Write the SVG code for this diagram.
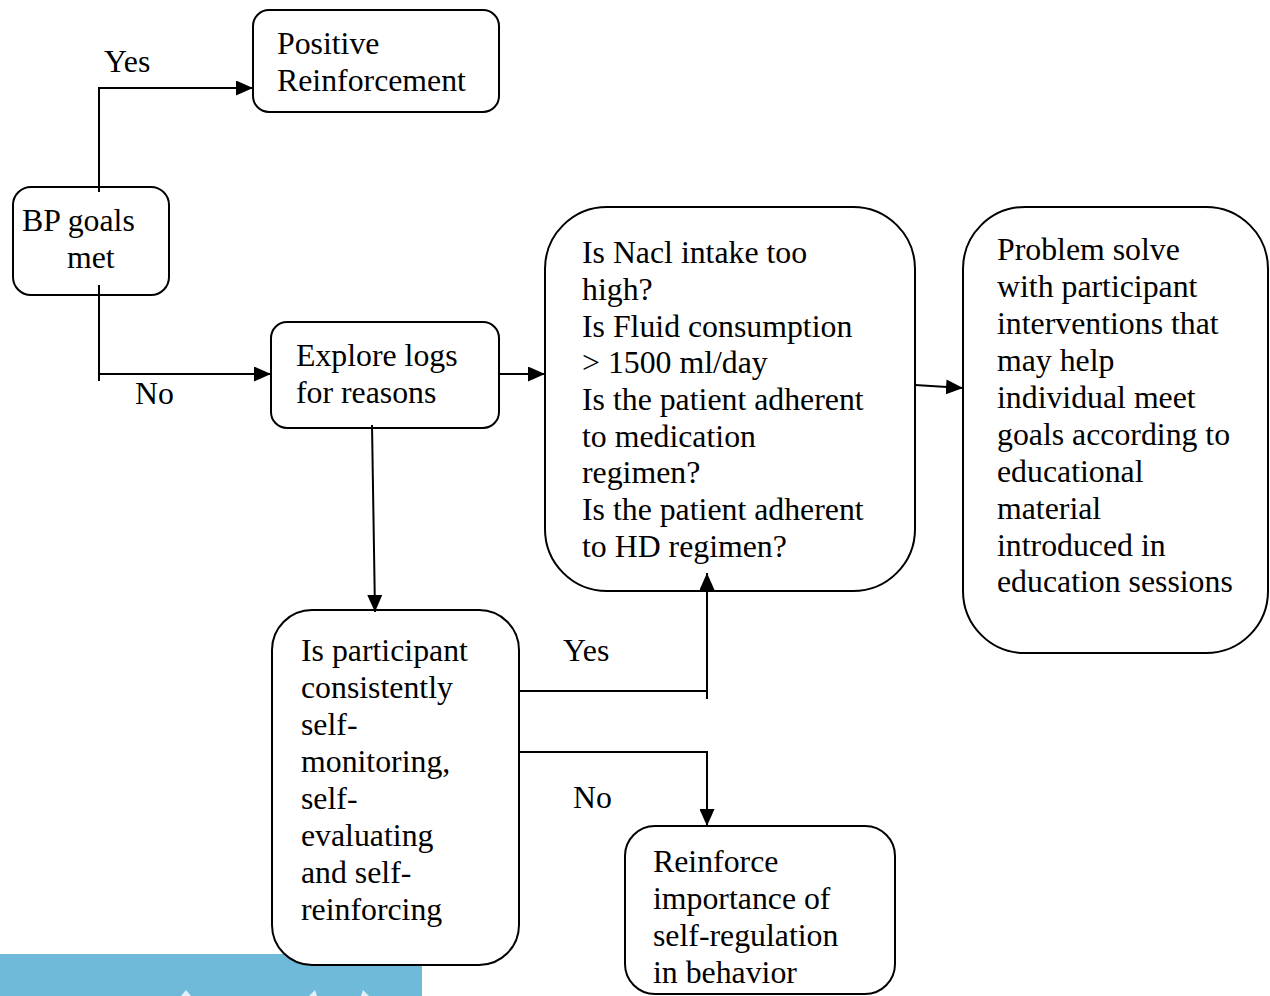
<svg xmlns="http://www.w3.org/2000/svg" width="1270" height="996" viewBox="0 0 1270 996">
<style>
.box{fill:#fff;stroke:#000;stroke-width:2}
.ln{fill:none;stroke:#000;stroke-width:2}
.t{font-family:"Liberation Serif","Times New Roman",serif;font-size:31.8px;fill:#000}
</style>
<defs>
<marker id="ah" markerWidth="17" markerHeight="15" refX="17" refY="7.5" orient="auto" markerUnits="userSpaceOnUse">
<path d="M0,0 L17,7.5 L0,15 Z" fill="#000"/>
</marker>
</defs>
<rect width="1270" height="996" fill="#fff"/>
<g id="band">
<rect x="0" y="954" width="422" height="42" fill="#6fbad9"/>
<path d="M181,996 L186,990 L191,996 M309,996 L315,990 L317,996 M361,996 L363,990 L369,996" fill="#fff" opacity="0.8"/>
</g>
<g id="labels">
<text class="t" x="104" y="72">Yes</text>
<text class="t" x="135" y="404">No</text>
<text class="t" x="563" y="661">Yes</text>
<text class="t" x="573" y="808">No</text>
</g>
<g id="positive">
<rect class="box" x="253" y="10" width="246" height="102" rx="16"/>
<text class="t" x="277" y="54">Positive</text>
<text class="t" x="277" y="91">Reinforcement</text>
</g>
<g id="bp">
<rect class="box" x="13" y="187" width="156" height="108" rx="18"/>
<text class="t" x="22" y="231">BP goals</text>
<text class="t" x="67" y="268">met</text>
</g>
<g id="explore">
<rect class="box" x="271" y="322" width="228" height="106" rx="16"/>
<text class="t" x="296" y="366">Explore logs</text>
<text class="t" x="296" y="403">for reasons</text>
</g>
<g id="questions">
<rect class="box" x="545" y="207" width="370" height="384" rx="62"/>
<text class="t">
<tspan x="582" y="263">Is Nacl intake too</tspan>
<tspan x="582" y="300">high?</tspan>
<tspan x="582" y="337">Is Fluid consumption</tspan>
<tspan x="582" y="373">&gt; 1500 ml/day</tspan>
<tspan x="582" y="410">Is the patient adherent</tspan>
<tspan x="582" y="447">to medication</tspan>
<tspan x="582" y="483">regimen?</tspan>
<tspan x="582" y="520">Is the patient adherent</tspan>
<tspan x="582" y="557">to HD regimen?</tspan>
</text>
</g>
<g id="problem">
<rect class="box" x="963" y="207" width="305" height="446" rx="62"/>
<text class="t">
<tspan x="997" y="260">Problem solve</tspan>
<tspan x="997" y="297">with participant</tspan>
<tspan x="997" y="334">interventions that</tspan>
<tspan x="997" y="371">may help</tspan>
<tspan x="997" y="408">individual meet</tspan>
<tspan x="997" y="445">goals according to</tspan>
<tspan x="997" y="482">educational</tspan>
<tspan x="997" y="519">material</tspan>
<tspan x="997" y="556">introduced in</tspan>
<tspan x="997" y="592">education sessions</tspan>
</text>
</g>
<g id="participant">
<rect class="box" x="272" y="610" width="247" height="355" rx="40"/>
<text class="t">
<tspan x="301" y="661">Is participant</tspan>
<tspan x="301" y="698">consistently</tspan>
<tspan x="301" y="735">self-</tspan>
<tspan x="301" y="772">monitoring,</tspan>
<tspan x="301" y="809">self-</tspan>
<tspan x="301" y="846">evaluating</tspan>
<tspan x="301" y="883">and self-</tspan>
<tspan x="301" y="920">reinforcing</tspan>
</text>
</g>
<g id="reinforce">
<rect class="box" x="625" y="826" width="270" height="168" rx="30"/>
<text class="t">
<tspan x="653" y="872">Reinforce</tspan>
<tspan x="653" y="909">importance of</tspan>
<tspan x="653" y="946">self-regulation</tspan>
<tspan x="653" y="983">in behavior</tspan>
</text>
</g>
<g id="connectors">
<path class="ln" d="M99,192 L99,88 L253,88" marker-end="url(#ah)"/>
<path class="ln" d="M99,285 L99,381 M99,374 L271,374" marker-end="url(#ah)"/>
<path class="ln" d="M499,374 L545,374" marker-end="url(#ah)"/>
<path class="ln" d="M915,385 L963,388" marker-end="url(#ah)"/>
<path class="ln" d="M372,425 L375,612" marker-end="url(#ah)"/>
<path class="ln" d="M519,691 L707,691 M707,699 L707,573" marker-end="url(#ah)"/>
<path class="ln" d="M519,752 L707,752 L707,826" marker-end="url(#ah)"/>
</g>
</svg>
